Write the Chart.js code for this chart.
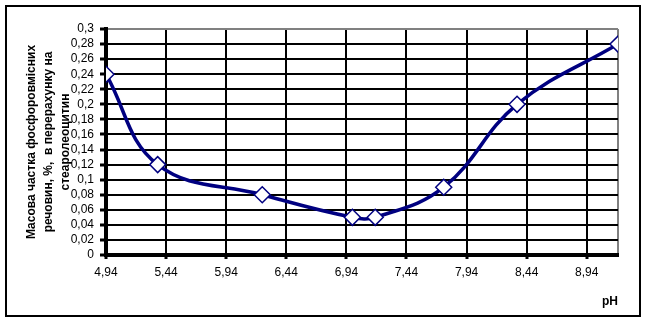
<!DOCTYPE html>
<html>
<head>
<meta charset="utf-8">
<script src="https://cdn.jsdelivr.net/npm/chart.js@4"></script>
<style>
  html, body { margin: 0; padding: 0; background: #fff; }
  #wrap { position: relative; width: 646px; height: 322px; }
  #frame { position: absolute; left: 5px; top: 5px; width: 632px; height: 308px; border: 2px solid #000; pointer-events: none; }
  canvas { position: absolute; left: 0; top: 0; }
</style>
</head>
<body>
<div id="wrap">
  <canvas id="c" width="646" height="322"></canvas>
  <div id="frame"></div>
</div>
<script>
// ---- data ----
const phValues = [4.94, 5.37, 6.24, 6.99, 7.18, 7.75, 8.36, 9.2];
const massFraction = [0.24, 0.12, 0.08, 0.05, 0.05, 0.09, 0.2, 0.28];
const xTickValues = [4.94, 5.44, 5.94, 6.44, 6.94, 7.44, 7.94, 8.44, 8.94];
const yTickValues = [0, 0.02, 0.04, 0.06, 0.08, 0.1, 0.12, 0.14, 0.16, 0.18, 0.2, 0.22, 0.24, 0.26, 0.28, 0.3];
const xMin = 4.94, xMax = 9.2, yMin = 0, yMax = 0.3;
const yTitle = ['Масова частка фосфоровмісних', 'речовин, %,  в перерахунку на', 'стеаролеоцитин'];
const xTitle = 'pH';

const fmt = v => String(parseFloat(Number(v).toFixed(2))).replace('.', ',');

const points = phValues.map((x, i) => ({ x: x, y: massFraction[i] }));

new Chart(document.getElementById('c'), {
  type: 'scatter',
  data: {
    datasets: [{
      data: points,
      showLine: true,
      borderColor: '#000080',
      borderWidth: 3.5,
      tension: 0.4,
      pointStyle: 'rectRot',
      pointRadius: 8,
      pointHoverRadius: 8,
      pointBackgroundColor: '#ffffff',
      pointBorderColor: '#000080',
      pointBorderWidth: 1.5
    }]
  },
  options: {
    responsive: false,
    animation: false,
    events: [],
    plugins: { legend: { display: false }, tooltip: { enabled: false } },
    layout: { padding: { left: 0, top: 29, right: 28, bottom: 0 } },
    scales: {
      x: {
        type: 'linear',
        min: xMin,
        max: xMax,
        afterBuildTicks: s => { s.ticks = xTickValues.concat([xMax]).map(v => ({ value: v })); },
        afterFit: s => { s.height = 67; },
        ticks: {
          autoSkip: false,
          maxRotation: 0,
          padding: 6,
          color: '#000',
          font: { family: 'Liberation Sans, Arial, sans-serif', size: 12 },
          callback: v => (v === xMax ? '' : fmt(v))
        },
        grid: {
          color: c => (c.tick && c.tick.value === xMax ? '#808080' : '#000'),
          lineWidth: 2,
          tickLength: 4,
          tickWidth: 3,
          tickColor: c => (c.tick && c.tick.value === xMax ? 'rgba(0,0,0,0)' : '#000')
        },
        border: { display: true, color: '#000', width: 4 },
        title: {
          display: true,
          text: xTitle,
          align: 'end',
          color: '#000',
          font: { family: 'Liberation Sans, Arial, sans-serif', size: 12, weight: 'bold', lineHeight: 1.3333 },
          padding: { top: 0, bottom: 12 }
        }
      },
      y: {
        type: 'linear',
        min: yMin,
        max: yMax,
        afterBuildTicks: s => { s.ticks = yTickValues.map(v => ({ value: v })); },
        afterFit: s => { s.width = 106; },
        ticks: {
          autoSkip: false,
          padding: 6,
          color: '#000',
          font: { family: 'Liberation Sans, Arial, sans-serif', size: 12 },
          callback: v => fmt(v)
        },
        grid: {
          color: c => (c.tick && Math.abs(c.tick.value - yMax) < 1e-9 ? '#808080' : '#000'),
          lineWidth: 2,
          tickLength: 6,
          tickWidth: 3,
          tickColor: '#000'
        },
        border: { display: true, color: '#000', width: 4 },
        title: {
          display: true,
          text: yTitle,
          color: '#000',
          font: { family: 'Liberation Sans, Arial, sans-serif', size: 12, weight: 'bold', lineHeight: 1.4167 },
          padding: { top: 23, bottom: 0 }
        }
      }
    }
  }
});
</script>
</body>
</html>
